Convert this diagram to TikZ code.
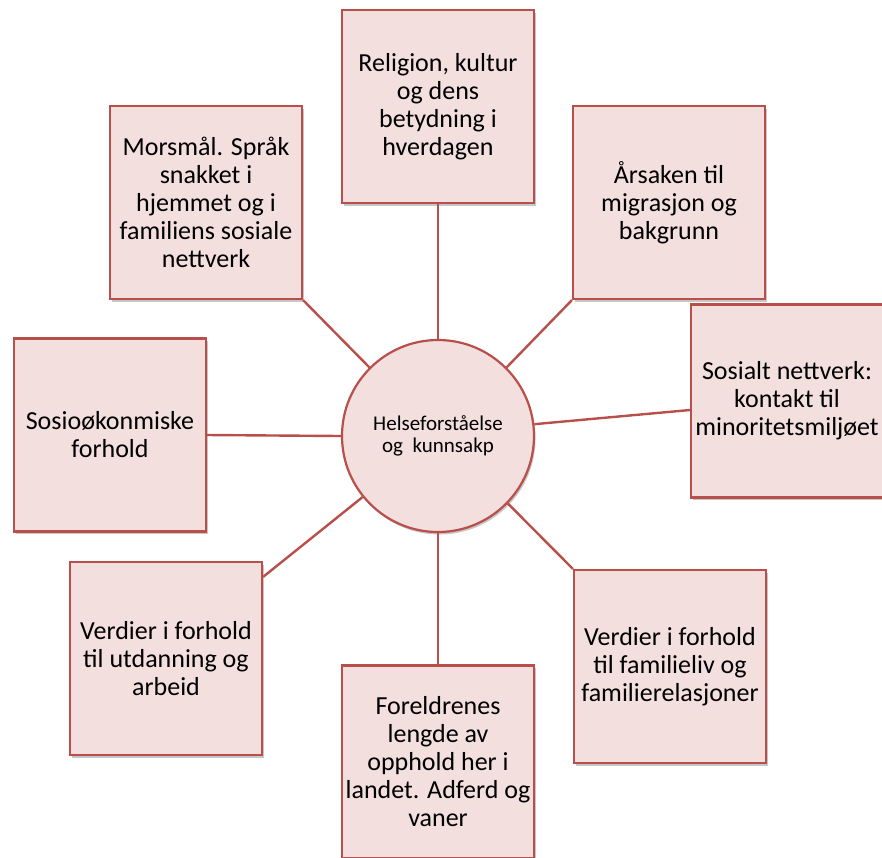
\documentclass[tikz,border=0pt]{standalone}
\usepackage{fontspec}
\setmainfont{Carlito}
\usetikzlibrary{shadows}
\definecolor{boxfill}{HTML}{F2DFDE}
\definecolor{boxline}{HTML}{B94F4B}
\begin{document}
\begin{tikzpicture}[x=1pt,y=-1pt,
  topic/.style={draw=boxline, line width=2.2pt, fill=boxfill, minimum width=192pt, minimum height=193pt,
    inner sep=1pt, align=center, font=\fontsize{26}{28}\selectfont,
    drop shadow={shadow xshift=1.5pt, shadow yshift=-2.5pt, fill=black, opacity=0.22}},
  hub/.style={circle, draw=boxline, line width=2.2pt, fill=boxfill, minimum size=192pt, inner sep=0pt,
    align=center, font=\fontsize{21}{22}\selectfont,
    drop shadow={shadow xshift=1.5pt, shadow yshift=-2.5pt, fill=black, opacity=0.22}},
  link/.style={draw=boxline, line width=2.4pt}]
\useasboundingbox (0,0) rectangle (882,857);
\clip (0,0) rectangle (882,857);
\node[hub] (c) at (438,436) {Helseforståelse\\og~ kunnsakp};
\node[topic] (rel) at (438,106.5) {Religion, kultur\\og dens\\betydning i\\hverdagen};
\node[topic] (mor) at (206,202.5) {Morsmål. Språk\\snakket i\\hjemmet og i\\familiens sosiale\\nettverk};
\node[topic] (aar) at (669,202.5) {Årsaken til\\migrasjon og\\bakgrunn};
\node[topic] (sos) at (787,401) {Sosialt nettverk:\\kontakt til\\minoritetsmiljøet};
\node[topic] (oko) at (110,435) {Sosioøkonmiske\\forhold};
\node[topic] (utd) at (166,658.5) {Verdier i forhold\\til utdanning og\\arbeid};
\node[topic] (for) at (438,762) {Foreldrenes\\lengde av\\opphold her i\\landet. Adferd og\\vaner};
\node[topic] (fam) at (670,666.5) {Verdier i forhold\\til familieliv og\\familierelasjoner};
\draw[link] (rel.south) -- (c.north);
\draw[link] (mor.south east) -- (c.135);
\draw[link] (aar.south west) -- (c.45);
\draw[link] ([yshift=-9pt]sos.west) -- (c.7);
\draw[link] (oko.east) -- (c.west);
\draw[link] ([yshift=-16pt]utd.north east) -- (c.219);
\draw[link] (for.north) -- (c.south);
\draw[link] (fam.north west) -- (c.316);
\end{tikzpicture}
\end{document}
